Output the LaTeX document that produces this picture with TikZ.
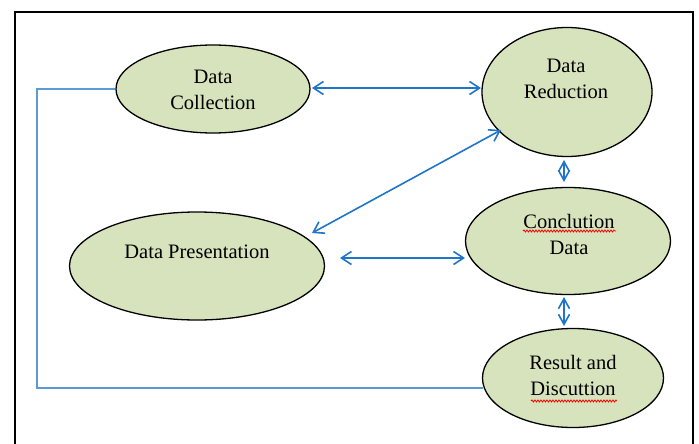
\documentclass[tikz,border=0pt]{standalone}
\usepackage{fontspec}
\setmainfont{Liberation Serif}
\usetikzlibrary{arrows.meta,shapes.geometric,decorations.pathmorphing}
\definecolor{ellfill}{RGB}{215,227,188}
\definecolor{arrblue}{RGB}{31,118,200}
\definecolor{fbblue}{RGB}{91,155,213}
\tikzset{
  oval/.style={ellipse, draw=black, line width=1.3pt, fill=ellfill, inner sep=0pt},
  lbl/.style={align=center, font=\fontsize{20.5}{26}\selectfont, inner sep=0pt},
  biarrow/.style={draw=arrblue, line width=1.6pt, {Straight Barb[length=10pt,width=13pt]}-{Straight Barb[length=10pt,width=13pt]}},
  shortarrow/.style={draw=arrblue, line width=1.6pt, {Straight Barb[length=10pt,width=11pt]}-{Straight Barb[length=10pt,width=11pt]}},
  feedback/.style={draw=fbblue, line width=1.3pt},
  squiggle/.style={draw=red, line width=0.8pt, decorate, decoration={snake, amplitude=1pt, segment length=3pt}}
}
\begin{document}
\begin{tikzpicture}[x=1pt, y=-1pt]
\useasboundingbox (0,0) rectangle (699,444);
\clip (0,0) rectangle (699,444);
\fill[white] (0,0) rectangle (699,444);
\draw[black, line width=2.2pt] (15,470) -- (15,12) -- (693,12) -- (693,470);

% ellipses
\node[oval, minimum width=194pt, minimum height=88pt] (dc) at (213,89) {};
\node[oval, minimum width=170pt, minimum height=129pt] (dr) at (567,92) {};
\node[oval, minimum width=255pt, minimum height=108pt] (dp) at (197,266) {};
\node[oval, minimum width=205pt, minimum height=107pt] (cd) at (568,241) {};
\node[oval, minimum width=181pt, minimum height=99pt] (rd) at (573,378) {};

% labels
\node[lbl] (tdc) at (213,90) {Data\\Collection};
\node[lbl] (tdr) at (566,79) {Data\\Reduction};
\node[lbl] (tdp) at (197,252) {Data Presentation};
\node[lbl] (tcd) at (569,234) {Conclution\\Data};
\node[lbl] (trd) at (573,375) {Result and\\Discuttion};

% spell-check squiggles
\coordinate (s1a) at (523,231);
\coordinate (s1b) at (616,231);
\coordinate (s2a) at (531,401);
\coordinate (s2b) at (617,401);
\draw[squiggle] (s1a) -- (s1b);
\draw[squiggle] (s2a) -- (s2b);

% connectors
\coordinate (a1s) at (312,88);
\coordinate (a1e) at (481,88);
\draw[biarrow] (a1s) -- (a1e);
\coordinate (a2s) at (312,233);
\coordinate (a2e) at (501,130);
\draw[biarrow] (a2s) -- (a2e);
\coordinate (a3s) at (340,258);
\coordinate (a3e) at (465,258);
\draw[biarrow] (a3s) -- (a3e);
\coordinate (a4s) at (564,160);
\coordinate (a4e) at (564,182);
\draw[shortarrow] (a4s) -- (a4e);
\coordinate (a5s) at (564,297);
\coordinate (a5e) at (564,326);
\draw[shortarrow] (a5s) -- (a5e);

% feedback loop
\coordinate (fb1) at (37,388);
\coordinate (fb2) at (37,89);
\draw[feedback] (rd.west |- 0,388) ++(1,0) -- (fb1) -- (fb2) -- (dc.west);
\end{tikzpicture}
\end{document}
